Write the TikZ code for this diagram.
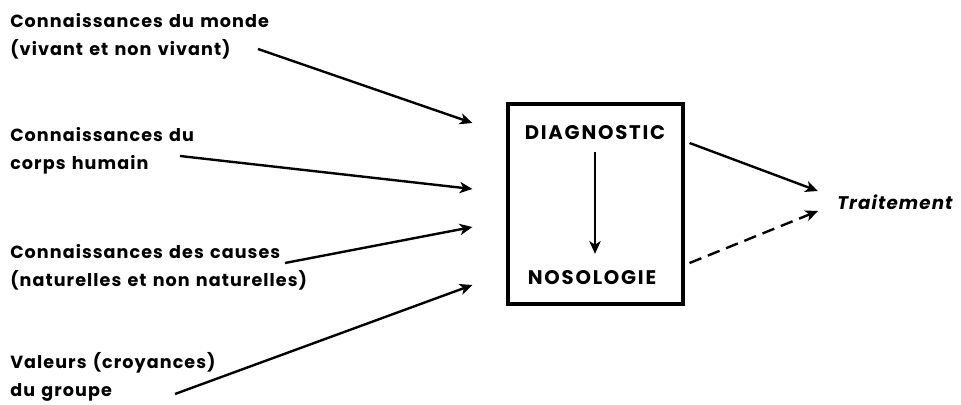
\documentclass[tikz,border=0pt]{standalone}
\usepackage{fontspec}
\setmainfont{Poppins}[LetterSpace=6, WordSpace=1.3]
\usetikzlibrary{arrows.meta, calc}

\begin{document}
\begin{tikzpicture}[
    x=0.025cm, y=-0.025cm,
    >={Stealth[length=9pt, width=8pt, inset=2.5pt]},
    font=\bfseries\fontsize{12.5}{19.9}\selectfont,
    source/.style={anchor=west, align=left, inner sep=0pt},
    stage/.style={inner sep=0pt, font=\bfseries\fontsize{14}{16}\selectfont\addfontfeature{LetterSpace=9}},
    frame/.style={draw=black, line width=2.2pt, minimum width=4.375cm, minimum height=5cm},
    result/.style={anchor=west, inner sep=0pt, font=\bfseries\itshape\fontsize{13}{16}\selectfont},
    arr/.style={->, line width=1.7pt},
    arrdash/.style={arr, dash pattern=on 9pt off 5pt}
]
\useasboundingbox (0,0) rectangle (961,405);

% sources
\node[source] (monde)   at (10,36)  {Connaissances du monde\\(vivant et non vivant)};
\node[source] (corps)   at (10,151) {Connaissances du\\corps humain};
\node[source] (causes)  at (10,267) {Connaissances des causes\\(naturelles et non naturelles)};
\node[source] (valeurs) at (10,377) {Valeurs (croyances)\\du groupe};

% central box
\node[frame] (box) at (595.5,204) {};
\node[stage] (diag) at (595,133) {DIAGNOSTIC};
\node[stage] (noso) at (592,278) {NOSOLOGIE};

\node[result] (trait) at (837,202) {Traitement};

\coordinate (m0) at ($(monde.west)+(248,13)$);
\coordinate (c0) at ($(corps.west)+(170,5)$);
\coordinate (k0) at ($(causes.west)+(275,-4)$);
\coordinate (v0) at ($(valeurs.west)+(165,17)$);

\draw[arr] (m0) -- ($(box.west)+(-34,-81)$);
\draw[arr] (c0) -- ($(box.west)+(-34,-15)$);
\draw[arr] (k0) -- ($(box.west)+(-34,23)$);
\draw[arr] (v0) -- ($(box.west)+(-34,81)$);

\draw[arr, shorten <=0.28cm, shorten >=0.42cm] (diag.south) -- (diag.south |- noso.north);

\draw[arr] ($(box.east)+(5,-61)$) -- ($(trait.west)+(-19,-11)$);
\draw[arrdash] ($(box.east)+(5,59)$) -- ($(trait.west)+(-19,9)$);
\end{tikzpicture}
\end{document}
